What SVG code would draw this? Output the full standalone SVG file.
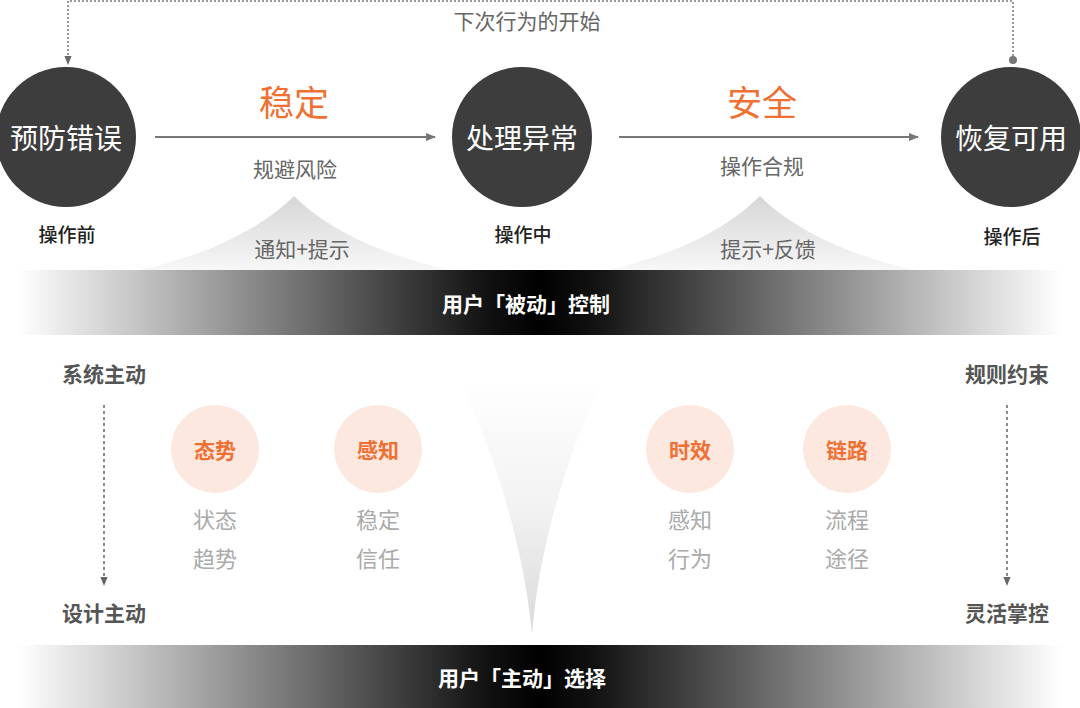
<svg xmlns="http://www.w3.org/2000/svg" width="1080" height="708" viewBox="0 0 1080 708">
<defs>
<style>
text{font-family:"Noto Sans CJK SC","Noto Sans",sans-serif;text-anchor:middle;dominant-baseline:central}
.big{fill:#fff;font-size:28px}
.stage{fill:#222;font-size:19px;font-weight:500}
.key{fill:#f07033;font-size:35px}
.sub{fill:#666;font-size:21px}
.band{fill:#fff;font-size:21px;font-weight:700}
.side{fill:#555;font-size:21px;font-weight:700}
.tag{fill:#f07033;font-size:21px;font-weight:700}
.soft{fill:#aaa;font-size:22px}
.dark{fill:#3d3d3d}
.peach{fill:#fde8df}
</style>
<linearGradient id="bandG" x1="0" x2="1" y1="0" y2="0">
<stop offset="0" stop-color="#fff"/>
<stop offset="0.1" stop-color="#ccc"/>
<stop offset="0.45" stop-color="#111"/>
<stop offset="0.5" stop-color="#000"/>
<stop offset="0.55" stop-color="#111"/>
<stop offset="0.9" stop-color="#ccc"/>
<stop offset="1" stop-color="#fff"/>
</linearGradient>
<linearGradient id="peakG" x1="0" x2="0" y1="0" y2="1">
<stop offset="0" stop-color="#d6d6d6"/>
<stop offset="1" stop-color="#f7f7f7"/>
</linearGradient>
<linearGradient id="funG" x1="0" x2="0" y1="0" y2="1">
<stop offset="0" stop-color="#fff"/>
<stop offset="0.5" stop-color="#f2f2f2"/>
<stop offset="1" stop-color="#dadada"/>
</linearGradient>
<marker id="arr" viewBox="0 0 10 10" refX="9" refY="5" markerWidth="10" markerHeight="10" markerUnits="userSpaceOnUse" orient="auto">
<path d="M0,1 L10,5 L0,9 Z" fill="#777"/>
</marker>
<marker id="arrD" viewBox="0 0 10 10" refX="9" refY="5" markerWidth="9" markerHeight="9" markerUnits="userSpaceOnUse" orient="auto">
<path d="M0,1 L10,5 L0,9 Z" fill="#666"/>
</marker>
</defs>
<rect width="1080" height="708" fill="#fff"/>

<!-- background shapes -->
<path d="M140,270 C220,252 268,222 294,196 C320,222 368,252 450,270 Z" fill="url(#peakG)"/>
<path d="M608,270 C688,252 734,222 760,196 C786,222 834,252 914,270 Z" fill="url(#peakG)"/>
<path d="M460,380 C502,470 525,560 532,634 C538,560 560,470 603,380 Z" fill="url(#funG)"/>
<rect x="18" y="270" width="1044" height="65" fill="url(#bandG)"/>
<rect x="18" y="645" width="1044" height="63" fill="url(#bandG)"/>

<g id="connectors" fill="none">
<path d="M1013,60 V1 H68 V64" stroke="#777" stroke-width="1.5" stroke-dasharray="2 2" marker-end="url(#arrD)"/>
<circle cx="1013" cy="60" r="4" fill="#777"/>
<line x1="155" y1="137" x2="435" y2="137" stroke="#777" stroke-width="2" marker-end="url(#arr)"/>
<line x1="619" y1="137" x2="918" y2="137" stroke="#777" stroke-width="2" marker-end="url(#arr)"/>
<line x1="104" y1="405" x2="104" y2="585" stroke="#666" stroke-width="1.5" stroke-dasharray="3 3" marker-end="url(#arrD)"/>
<line x1="1007" y1="405" x2="1007" y2="585" stroke="#666" stroke-width="1.5" stroke-dasharray="3 3" marker-end="url(#arrD)"/>
</g>

<text x="527" y="20" class="sub">下次行为的开始</text>

<g id="node-prevent">
<circle cx="66" cy="137" r="70" class="dark"/>
<text x="66" y="137" class="big">预防错误</text>
<text x="67" y="233" class="stage">操作前</text>
</g>
<g id="node-handle">
<circle cx="522" cy="137" r="70" class="dark"/>
<text x="522" y="137" class="big">处理异常</text>
<text x="523" y="233" class="stage">操作中</text>
</g>
<g id="node-recover">
<circle cx="1011" cy="137" r="70" class="dark"/>
<text x="1011" y="137" class="big">恢复可用</text>
<text x="1012" y="235" class="stage">操作后</text>
</g>

<g id="label-stable">
<text x="294" y="100" class="key">稳定</text>
<text x="295" y="168" class="sub">规避风险</text>
<text x="302" y="248" class="sub">通知+提示</text>
</g>
<g id="label-safe">
<text x="762" y="100" class="key">安全</text>
<text x="762" y="165" class="sub">操作合规</text>
<text x="768" y="248" class="sub">提示+反馈</text>
</g>

<g id="band-passive"><text x="526" y="303" class="band">用户「被动」控制</text></g>
<g id="band-active"><text x="522" y="677" class="band">用户「主动」选择</text></g>

<g id="side-left">
<text x="104" y="373" class="side">系统主动</text>
<text x="104" y="612" class="side">设计主动</text>
</g>
<g id="side-right">
<text x="1007" y="373" class="side">规则约束</text>
<text x="1007" y="612" class="side">灵活掌控</text>
</g>

<g id="node-trend">
<circle cx="215" cy="449" r="44" class="peach"/>
<text x="215" y="449" class="tag">态势</text>
<text x="215" y="518" class="soft">状态</text>
<text x="215" y="557" class="soft">趋势</text>
</g>
<g id="node-perceive">
<circle cx="378" cy="449" r="44" class="peach"/>
<text x="378" y="449" class="tag">感知</text>
<text x="378" y="518" class="soft">稳定</text>
<text x="378" y="557" class="soft">信任</text>
</g>
<g id="node-timely">
<circle cx="690" cy="449" r="44" class="peach"/>
<text x="690" y="449" class="tag">时效</text>
<text x="690" y="518" class="soft">感知</text>
<text x="690" y="557" class="soft">行为</text>
</g>
<g id="node-chain">
<circle cx="847" cy="449" r="44" class="peach"/>
<text x="847" y="449" class="tag">链路</text>
<text x="847" y="518" class="soft">流程</text>
<text x="847" y="557" class="soft">途径</text>
</g>
</svg>
